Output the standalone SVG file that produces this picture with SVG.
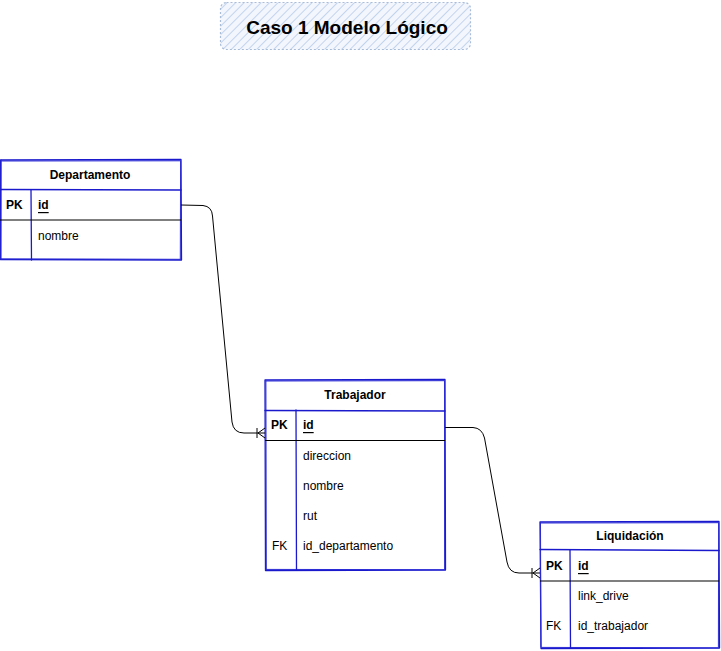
<svg xmlns="http://www.w3.org/2000/svg" width="721" height="651" viewBox="0 0 721 651">
<style>
.sk{fill:none;stroke:#1a1acc;stroke-width:1.3;stroke-linejoin:round;stroke-linecap:round}
.sk2{fill:none;stroke:#2b2bd6;stroke-width:1;stroke-linecap:round}
.sep{stroke:#000;stroke-width:1.1}
.t{font-family:"Liberation Sans",Arial,sans-serif;font-size:12px;fill:#000;dominant-baseline:central}
.b{font-weight:bold}
.h{font-family:"Liberation Sans",Arial,sans-serif;font-size:12px;font-weight:bold;fill:#000;text-anchor:middle;dominant-baseline:central}
.u{text-decoration:underline}
.conn{fill:none;stroke:#000;stroke-width:1}
</style>
<defs>
<pattern id="hatch" patternUnits="userSpaceOnUse" width="6" height="6" patternTransform="rotate(45)">
<rect width="6" height="6" fill="#f3f7fd"/>
<line x1="0" y1="0" x2="0" y2="6" stroke="#c2d3ee" stroke-width="2"/>
</pattern>
</defs>
<g id="title">
<rect x="220.5" y="2.5" width="250" height="47" rx="6" fill="url(#hatch)" stroke="#a9bcd8" stroke-width="1.2" stroke-dasharray="2 2"/>
<text x="347" y="27" class="h" style="font-size:19px">Caso 1 Modelo Lógico</text>
</g>
<g id="departamento">
<path class="sk" d="M0.5,160 L181,159.5 L181.5,260 L0.5,259.5 Z"/>
<path class="sk2" d="M1,161 L180,160.8 M180.6,161 L180.3,259 M1,258.8 L180.8,259.3 M1.2,160 L1,259"/>
<path class="sk" d="M0.5,189.5 L181,190"/>
<path class="sk" d="M31,190 L31.5,260"/>
<line class="sep" x1="0" y1="220" x2="181" y2="220"/>
<text x="90" y="175" class="h">Departamento</text>
<text x="6" y="205" class="t b">PK</text>
<text x="38" y="205" class="t b u">id</text>
<text x="38" y="236" class="t">nombre</text>
</g>
<g id="trabajador">
<path class="sk" d="M265,380 L445,379.5 L445.5,570 L265.5,570.5 Z"/>
<path class="sk2" d="M265.8,381 L444.2,380.7 M444.5,381 L444.6,569.5 M266,569.4 L444.8,569.7 M265.9,381 L266.3,569.5"/>
<path class="sk" d="M265,410.5 L445,411"/>
<path class="sk" d="M296,410 L296.5,570"/>
<line class="sep" x1="265" y1="440.5" x2="445" y2="440.5"/>
<text x="355" y="395" class="h">Trabajador</text>
<text x="271" y="425" class="t b">PK</text>
<text x="303" y="425" class="t b u">id</text>
<text x="303" y="456" class="t">direccion</text>
<text x="303" y="486" class="t">nombre</text>
<text x="303" y="516" class="t">rut</text>
<text x="272" y="546" class="t">FK</text>
<text x="303" y="546" class="t">id_departamento</text>
</g>
<g id="liquidacion">
<path class="sk" d="M540,522 L719,521.5 L719.5,648 L541,648.5 Z"/>
<path class="sk2" d="M540.7,523 L718.3,522.7 M718.6,523 L718.4,647.4 M541.5,647.4 L718.7,647.8 M540.5,523 L540.9,647"/>
<path class="sk" d="M540,549.5 L719,550.5"/>
<path class="sk" d="M570,550 L570.5,648"/>
<line class="sep" x1="540" y1="581" x2="719" y2="581"/>
<text x="630" y="536" class="h">Liquidación</text>
<text x="546" y="566" class="t b">PK</text>
<text x="578" y="566" class="t b u">id</text>
<text x="578" y="596" class="t">link_drive</text>
<text x="546" y="626" class="t">FK</text>
<text x="578" y="626" class="t">id_trabajador</text>
</g>
<g id="connectors">
<path class="conn" d="M181,205 L203,205.5 Q212,206.5 212.5,216 L232,422 Q233.5,433 244,433 L265,433"/>
<path class="conn" d="M257,428 L257,438 M258,433 L265,428 M258,433 L265,438"/>
<path class="conn" d="M445,427.5 L473,427.5 Q482,428 484.5,438 L507,562 Q509,573 519,573 L540,573"/>
<path class="conn" d="M532,568 L532,578 M533,573 L540,568 M533,573 L540,578"/>
</g>
</svg>
